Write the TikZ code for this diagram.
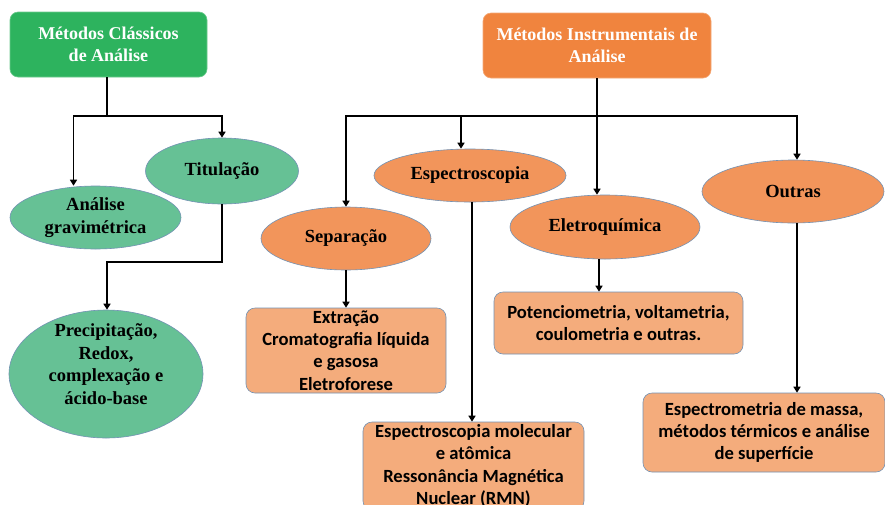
\documentclass[tikz,border=0pt]{standalone}
\usepackage{fontspec}
\setmainfont{Liberation Serif}
\newfontfamily\boxfont{Carlito}
\usetikzlibrary{shapes.geometric,arrows.meta}
\definecolor{gdark}{HTML}{2DB35E}
\definecolor{glight}{HTML}{66C195}
\definecolor{odark}{HTML}{F0843E}
\definecolor{oell}{HTML}{F2955B}
\definecolor{obox}{HTML}{F4AC7C}
\definecolor{edge}{HTML}{7392B4}
\tikzset{
  titlebox/.style={rectangle, rounded corners=8pt, draw=#1!70!white, line width=0.6pt, fill=#1,
    text=white, align=center, inner sep=0pt,
    font=\fontsize{18}{22}\selectfont\bfseries},
  ell/.style={ellipse, draw=edge, line width=0.6pt, fill=#1, align=center, inner sep=0pt,
    font=\fontsize{18.5}{22.5}\selectfont\bfseries},
  infobox/.style={rectangle, rounded corners=9pt, draw=edge, line width=0.6pt, fill=obox,
    align=center, inner sep=0pt, font=\boxfont\fontsize{18.6}{22.3}\selectfont\bfseries},
  conn/.style={draw=black, line width=1.8pt},
  arr/.style={conn, -{Triangle[width=7pt,length=6pt]}},
  txt/.style={align=center, inner sep=0pt}
}
\begin{document}
\begin{tikzpicture}[x=1pt,y=-1pt]
\useasboundingbox (0,0) rectangle (885,504);
\clip (0,0) rectangle (885,504);
\fill[white] (0,0) rectangle (885,504);

% top boxes
\node[titlebox=gdark, minimum width=197pt, minimum height=65pt] (cl) at (108.5,44.5)
  {Métodos Clássicos\\de Análise};
\node[titlebox=odark, minimum width=228pt, minimum height=65pt] (ins) at (597,45.5)
  {Métodos Instrumentais de\\Análise};

% green ellipses
\node[ell=glight, minimum width=153pt, minimum height=66pt] (tit) at (222,171) {Titulação};
\node[ell=glight, minimum width=171pt, minimum height=63pt] (ana) at (95.5,217.5) {Análise\\gravimétrica};
\node[ell=glight, minimum width=194pt, minimum height=128pt] (prec) at (106,374) {};
\node[txt, font=\fontsize{18.5}{22.5}\selectfont\bfseries] (prect) at (106,364)
  {Precipitação,\\Redox,\\complexação e\\ácido-base};

% orange ellipses
\node[ell=oell, minimum width=192pt, minimum height=53pt] (esp) at (470,175.5) {Espectroscopia};
\node[ell=oell, minimum width=170pt, minimum height=63pt] (sep) at (346,238.5) {Separação};
\node[ell=oell, minimum width=190pt, minimum height=64pt] (ele) at (605,227) {Eletroquímica};
\node[ell=oell, minimum width=182pt, minimum height=63pt] (out) at (793,191.5) {Outras};

% info boxes
\node[infobox, minimum width=200pt, minimum height=85pt] (ext) at (346,350.5)
  {Extração\\Cromatografia líquida\\e gasosa\\Eletroforese};
\node[infobox, minimum width=249pt, minimum height=62pt] (pot) at (618.5,323)
  {Potenciometria, voltametria,\\coulometria e outras.};
\node[infobox, minimum width=221pt, minimum height=88pt] (espb) at (473.5,466)
  {Espectroscopia molecular\\e atômica\\Ressonância Magnética\\Nuclear (RMN)};
\node[infobox, minimum width=242pt, minimum height=79pt] (ms) at (764,432.5)
  {Espectrometria de massa,\\métodos térmicos e análise\\de superfície};

% green connectors
\coordinate (gj) at (107,116);
\draw[conn] (cl.south -| gj) -- (gj);
\draw[arr] (gj) -| ([xshift=-22pt]ana.north);
\draw[arr] (gj) -| (tit.north);
\draw[arr] (tit.south) -- ++(0,58) -| ([xshift=1pt]prec.north);

% orange connectors
\coordinate (oj) at (597,116);
\draw[conn] (ins.south) -- (oj);
\draw[arr] (oj) -| (sep.north);
\draw[arr] (oj) -| ([xshift=-9pt]esp.north);
\draw[arr] (oj) -- ([xshift=-8pt]ele.north);
\draw[arr] (oj) -| ([xshift=4pt]out.north);

\draw[arr] (sep.south) -- (ext.north);
\draw[arr] (ele.south -| 599,0) -- (pot.north -| 599,0);
\draw[arr] (esp.south -| 472,0) -- (espb.north -| 472,0);
\draw[arr] (out.south -| 797,0) -- (ms.north -| 797,0);
\end{tikzpicture}
\end{document}
